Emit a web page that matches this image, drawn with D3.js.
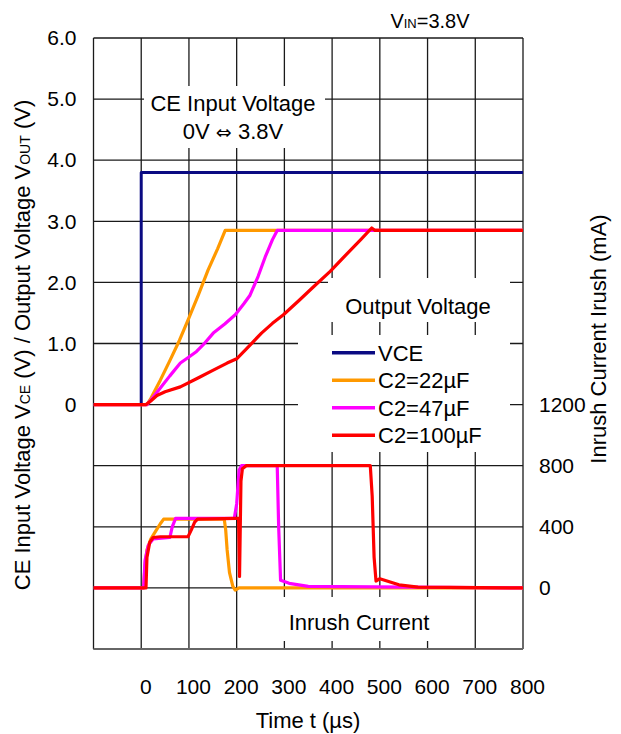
<!DOCTYPE html>
<html><head><meta charset="utf-8">
<script src="https://cdn.jsdelivr.net/npm/d3@7"></script>
<style>
html,body{margin:0;padding:0;background:#fff;}
text{font-family:"Liberation Sans",Arial,sans-serif;fill:#000;}
</style></head>
<body><svg id="chart" width="621" height="734"></svg>
<script>
// ---- data ----
const xTicks = [0, 100, 200, 300, 400, 500, 600, 700, 800];
const xGrid = [-100, 0, 100, 200, 300, 400, 500, 600, 700, 800];
const vTicks = [0, 1, 2, 3, 4, 5, 6];
const vGrid = [-4, -3, -2, -1, 0, 1, 2, 3, 4, 5, 6];
const iTicks = [0, 400, 800, 1200];

const seriesNames = ["VCE", "C2=22\u00B5F", "C2=47\u00B5F", "C2=100\u00B5F"];
const seriesColors = ["#0a0a82", "#ff9900", "#ff00ff", "#ff0000"];

// CE input voltage (V)
const vceT = [-100, 0, 0, 800];
const vceV = [0, 0, 3.8, 3.8];

// Output voltage (V)
const c22T = [-100, 12, 20, 40, 60, 80, 100, 120, 140, 160, 176, 180, 800];
const c22V = [0, 0, 0.1, 0.4, 0.72, 1.05, 1.42, 1.8, 2.2, 2.55, 2.85, 2.85, 2.85];
const c47T = [-100, 12, 20, 40, 60, 82, 100, 116, 130, 151, 175, 197, 215, 228, 245, 260, 275, 285, 800];
const c47V = [0, 0, 0.07, 0.27, 0.47, 0.68, 0.78, 0.87, 0.98, 1.17, 1.32, 1.47, 1.65, 1.79, 2.1, 2.42, 2.7, 2.85, 2.85];
const c100T = [-100, 10, 20, 33, 50, 82, 120, 150, 180, 200, 225, 252, 275, 298, 330, 360, 396, 430, 460, 483, 490, 800];
const c100V = [0, 0, 0.06, 0.15, 0.21, 0.29, 0.44, 0.56, 0.68, 0.75, 0.95, 1.17, 1.33, 1.47, 1.7, 1.92, 2.18, 2.46, 2.7, 2.89, 2.85, 2.85];

// Inrush current (mA)
const i22T = [-100, 5, 8, 12, 20, 30, 40, 47, 100, 174, 177, 180, 185, 192, 197, 205, 300, 800];
const i22I = [0, 0, 150, 250, 320, 370, 420, 450, 450, 450, 380, 250, 100, 10, -15, 0, 0, 0];
const i47T = [-100, 5, 8, 15, 25, 60, 65, 72, 100, 195, 200, 205, 210, 285, 288, 292, 310, 350, 800];
const i47I = [0, 0, 180, 280, 320, 330, 400, 455, 455, 455, 550, 770, 800, 800, 400, 50, 30, 10, 0];
const i100T = [-100, 10, 12, 18, 25, 40, 98, 105, 112, 118, 200, 204, 206, 209, 212, 220, 480, 484, 488, 492, 500, 540, 580, 800];
const i100I = [0, 0, 200, 300, 330, 335, 335, 380, 430, 450, 455, 455, 75, 700, 780, 800, 800, 600, 200, 45, 60, 20, 5, 0];

// ---- layout ----
const L = 93.5, R = 523, T = 38, B = 649;
const svg = d3.select("#chart");
const x = d3.scaleLinear().domain([-100, 800]).range([L, R]);
const yV = d3.scaleLinear().domain([-4, 6]).range([B, T]);
const yI = d3.scaleLinear().domain([-400, 3600]).range([B, T]);

// grid
const grid = svg.append("g").attr("stroke", "#1a1a1a").attr("stroke-width", 1.3);
grid.selectAll("line.v").data(xGrid).join("line")
  .attr("x1", d => x(d)).attr("x2", d => x(d)).attr("y1", T).attr("y2", B);
grid.selectAll("line.h").data(vGrid).join("line")
  .attr("x1", L).attr("x2", R).attr("y1", d => yV(d)).attr("y2", d => yV(d));
svg.append("line").attr("x1", L).attr("x2", R).attr("y1", B).attr("y2", B)
  .attr("stroke", "#666").attr("stroke-width", 2.2);

// white label boxes
const boxes = [
  [144, 86, 181, 62],
  [328, 278, 182, 44],
  [298, 335, 212, 117],
  [239, 597, 233, 44]
];
svg.selectAll("rect.box").data(boxes).join("rect")
  .attr("x", d => d[0]).attr("y", d => d[1]).attr("width", d => d[2]).attr("height", d => d[3])
  .attr("fill", "#fff");

// clip
svg.append("clipPath").attr("id", "clip").append("rect")
  .attr("x", L).attr("y", T - 5).attr("width", R - L + 2).attr("height", B - T + 5);

const lineV = d3.line().x(d => x(d[0])).y(d => yV(d[1]));
const lineI = d3.line().x(d => x(d[0])).y(d => yI(d[1]));
const zip = (a, b) => a.map((t, k) => [t, b[k]]);

const plot = svg.append("g").attr("clip-path", "url(#clip)").attr("fill", "none")
  .attr("stroke-linejoin", "round").attr("stroke-linecap", "butt");
plot.append("path").attr("d", lineV(zip(vceT, vceV))).attr("stroke", seriesColors[0]).attr("stroke-width", 3);
const volt = [[c22T, c22V], [c47T, c47V], [c100T, c100V]];
const curr = [[i22T, i22I], [i47T, i47I], [i100T, i100I]];
volt.forEach((s, k) => {
  plot.append("path").attr("d", lineV(zip(s[0], s[1]))).attr("stroke", seriesColors[k + 1]).attr("stroke-width", 3.2);
});
curr.forEach((s, k) => {
  plot.append("path").attr("d", lineI(zip(s[0], s[1]))).attr("stroke", seriesColors[k + 1]).attr("stroke-width", 3.2);
});

// axes labels
const FT = 21, FL = 22;
const fam = "Liberation Sans, Arial, sans-serif";
const ax = svg.append("g").attr("transform", `translate(4,${B})`)
  .call(d3.axisBottom(x).tickValues(xTicks).tickSize(0).tickPadding(30).tickFormat(d3.format("d")));
ax.select(".domain").remove();
ax.selectAll("text").style("font-size", FT + "px").style("font-family", fam).attr("fill", "#000");

const al = svg.append("g").attr("transform", `translate(${L},0)`)
  .call(d3.axisLeft(yV).tickValues(vTicks).tickSize(0).tickPadding(17).tickFormat(d => d === 0 ? "0" : d3.format(".1f")(d)));
al.select(".domain").remove();
al.selectAll("text").style("font-size", FT + "px").style("font-family", fam).attr("fill", "#000");

const ar = svg.append("g").attr("transform", `translate(${R},0)`)
  .call(d3.axisRight(yI).tickValues(iTicks).tickSize(0).tickPadding(16).tickFormat(d3.format("d")));
ar.select(".domain").remove();
ar.selectAll("text").style("font-size", FT + "px").style("font-family", fam).attr("fill", "#000");

// titles
svg.append("text").attr("x", 308).attr("y", 728).attr("text-anchor", "middle").style("font-size", FL + "px").text("Time t (\u00B5s)");

const lt = svg.append("text").attr("transform", "translate(30,345) rotate(-90)").attr("text-anchor", "middle").style("font-size", FL + "px");
lt.append("tspan").text("CE Input Voltage V");
lt.append("tspan").style("font-size", "14px").text("CE");
lt.append("tspan").text(" (V) / Output Voltage V");
lt.append("tspan").style("font-size", "14px").text("OUT");
lt.append("tspan").text(" (V)");

svg.append("text").attr("transform", "translate(606,339) rotate(-90)").attr("text-anchor", "middle")
  .style("font-size", FL + "px").text("Inrush Current Irush (mA)");

const vin = svg.append("text").attr("x", 430).attr("y", 28).attr("text-anchor", "middle").style("font-size", "20px");
vin.append("tspan").text("V");
vin.append("tspan").style("font-size", "13px").text("IN");
vin.append("tspan").text("=3.8V");

svg.append("text").attr("x", 233).attr("y", 111).attr("text-anchor", "middle").style("font-size", FL + "px").text("CE Input Voltage");
const ce2 = svg.append("text").attr("x", 233).attr("y", 139).attr("text-anchor", "middle").style("font-size", FL + "px");
ce2.append("tspan").text("0V ");
ce2.append("tspan").style("font-family", "DejaVu Sans").style("font-size", "19px").text("\u21D4");
ce2.append("tspan").text(" 3.8V");
svg.append("text").attr("x", 418).attr("y", 314).attr("text-anchor", "middle").style("font-size", FL + "px").text("Output Voltage");
svg.append("text").attr("x", 359).attr("y", 630).attr("text-anchor", "middle").style("font-size", FL + "px").text("Inrush Current");

// legend
const legY = [352.7, 380.2, 407.7, 435.2];
const leg = svg.append("g");
seriesNames.forEach((n, k) => {
  leg.append("line").attr("x1", 332).attr("x2", 375).attr("y1", legY[k]).attr("y2", legY[k])
    .attr("stroke", seriesColors[k]).attr("stroke-width", 3.5);
  leg.append("text").attr("x", 378).attr("y", legY[k] + 8).style("font-size", FL + "px").text(n);
});
</script></body></html>
